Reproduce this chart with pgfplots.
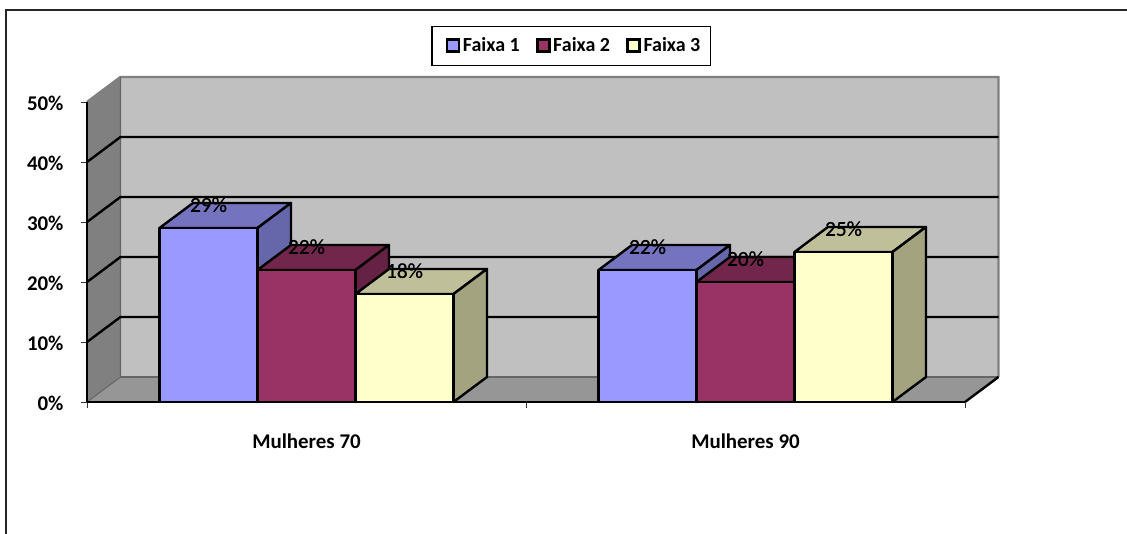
\documentclass[border=0pt]{standalone}
\usepackage{fontspec}
\setmainfont{Carlito}
\newfontfamily\rotulo[FakeBold=0.7]{Carlito}
\usepackage{pgfplots}
\pgfplotsset{compat=1.18}

\definecolor{parede}{HTML}{C0C0C0}
\definecolor{lateral}{HTML}{808080}
\definecolor{piso}{HTML}{969696}
\definecolor{azulF}{HTML}{9999FF}
\definecolor{azulT}{HTML}{7373BF}
\definecolor{azulS}{HTML}{6666AA}
\definecolor{vinhoF}{HTML}{993366}
\definecolor{vinhoT}{HTML}{73264C}
\definecolor{vinhoS}{HTML}{662244}
\definecolor{cremeF}{HTML}{FFFFCC}
\definecolor{cremeT}{HTML}{BFBF99}
\definecolor{cremeS}{HTML}{A3A380}

% Depth of the oblique projection, in axis units
\def\dx{0.0763}
\def\dy{4.167}
% Bar width in category units
\def\bw{0.2232}

% Extra room left of a legend key
\def\recuo{0pt}
\tikzset{primeira chave/.code={\def\recuo{-6pt}}}

% A bar as three faces: top, side, front. #1 = centre, #2 = value, #3 = colour stem
\newcommand{\barraTresD}[3]{%
  \pgfmathsetmacro{\xa}{#1-\bw/2}%
  \pgfmathsetmacro{\xb}{#1+\bw/2}%
  \pgfmathsetmacro{\xc}{\xa+\dx}%
  \pgfmathsetmacro{\xd}{\xb+\dx}%
  \pgfmathsetmacro{\yt}{#2+\dy}%
  \addplot[forget plot,fill=#3T,draw=black,line width=1.8pt,line join=round] coordinates {(\xa,#2) (\xc,\yt) (\xd,\yt) (\xb,#2)} -- cycle;
  \addplot[forget plot,fill=#3S,draw=black,line width=1.8pt,line join=round] coordinates {(\xb,0) (\xd,\dy) (\xd,\yt) (\xb,#2)} -- cycle;
  \addplot[forget plot,fill=#3F,draw=black,line width=1.8pt,line join=round] coordinates {(\xa,0) (\xb,0) (\xb,#2) (\xa,#2)} -- cycle;
}

\begin{document}
\begin{tikzpicture}
\useasboundingbox (0,0) rectangle (845.25pt,400.5pt);
% Outer chart frame
\draw[line width=1.4pt,black!85] (4.2pt,0pt) -- (4.2pt,393pt) -- (845.25pt,393pt);

\begin{axis}[
  at={(65.25pt,99pt)}, anchor=south west,
  scale only axis, width=658.5pt, height=225pt,
  xmin=0, xmax=2, ymin=0, ymax=50,
  clip=false, axis on top,
  axis x line*=bottom, axis y line*=left,
  axis line style={line width=1.8pt,-},
  xtick={0,1,2}, xticklabels={,,},
  extra x ticks={0.5,1.5},
  extra x tick labels={Mulheres 70,Mulheres 90},
  extra x tick style={major tick length=0pt,
    tick label style={yshift=-20.3pt}},
  ytick={0,10,20,30,40,50},
  yticklabel={\pgfmathprintnumber{\tick}\%},
  /pgf/number format/assume math mode=true,
  tick style={line width=0.6pt,black!80},
  major tick length=4.5pt,
  tick align=outside,
  tick label style={font=\fontsize{15.7}{18}\selectfont\bfseries},
  yticklabel style={xshift=-9.6pt,yshift=-0.8pt},
  legend style={at={(0.5513,1.1867)},anchor=center,draw=black,line width=0.8pt,
    font=\fontsize{15}{18}\selectfont\bfseries,
    legend columns=3, inner xsep=5.3pt, inner ysep=6.6pt,
    /tikz/every even column/.append style={column sep=10.3pt}},
  legend cell align=left,
  legend image code/.code={%
    \path[#1,draw=none,fill=none] (\recuo,0pt) (0pt,0pt);
    \draw[#1,line width=1.8pt] (0pt,-4pt) rectangle (9pt,5pt);},
]

% Back wall, side wall and floor
\addplot[forget plot,fill=parede,draw=none] coordinates {(0.0763,4.167) (2.0763,4.167) (2.0763,54.167) (0.0763,54.167)} -- cycle;
\addplot[forget plot,fill=lateral,draw=none] coordinates {(0,0) (0.0763,4.167) (0.0763,54.167) (0,50)} -- cycle;
\addplot[forget plot,fill=piso,draw=none] coordinates {(0,0) (2,0) (2.0763,4.167) (0.0763,4.167)} -- cycle;

% Outline of the wall and floor
\addplot[forget plot,draw=lateral,line width=1.8pt] coordinates {(0,50) (0.0763,54.167) (2.0763,54.167) (2.0763,4.167)};
\addplot[forget plot,draw=black!60,line width=0.8pt] coordinates {(0,0) (0.0763,4.167) (0.0763,54.167)};
\addplot[forget plot,draw=black!60,line width=1pt] coordinates {(0.0763,4.167) (2.0763,4.167)};
\addplot[forget plot,draw=black,line width=1.8pt] coordinates {(2,0) (2.0763,4.167)};

% Grid lines running along the side wall and the back wall
\addplot[forget plot,draw=black,line width=1.8pt] coordinates {(0,10) (0.0763,14.167) (2.0763,14.167)};
\addplot[forget plot,draw=black,line width=1.8pt] coordinates {(0,20) (0.0763,24.167) (2.0763,24.167)};
\addplot[forget plot,draw=black,line width=1.8pt] coordinates {(0,30) (0.0763,34.167) (2.0763,34.167)};
\addplot[forget plot,draw=black,line width=1.8pt] coordinates {(0,40) (0.0763,44.167) (2.0763,44.167)};

% Bars: Mulheres 70
\barraTresD{0.2768}{29}{azul}
\barraTresD{0.5}{22}{vinho}
\barraTresD{0.7232}{18}{creme}
% Bars: Mulheres 90
\barraTresD{1.2768}{22}{azul}
\barraTresD{1.5}{20}{vinho}
\barraTresD{1.7232}{25}{creme}

% Value labels
\addplot[forget plot,draw=none,mark=none,
  nodes near coords={\pgfmathprintnumber[fixed,precision=0,assume math mode=true]{\pgfplotspointmeta}\%},
  every node near coord/.append style={anchor=center,yshift=17.5pt,inner sep=0pt,
    font=\rotulo\fontsize{16}{18}\selectfont}]
  coordinates {(0.2768,29) (0.5,22) (0.7232,18) (1.2768,22) (1.5,20) (1.7232,25)};

% Legend keys
\addlegendimage{fill=azulF,draw=black,primeira chave}
\addlegendentry{Faixa 1}
\addlegendimage{fill=vinhoF,draw=black}
\addlegendentry{Faixa 2}
\addlegendimage{fill=cremeF,draw=black}
\addlegendentry{Faixa 3}
\end{axis}
\end{tikzpicture}
\end{document}
